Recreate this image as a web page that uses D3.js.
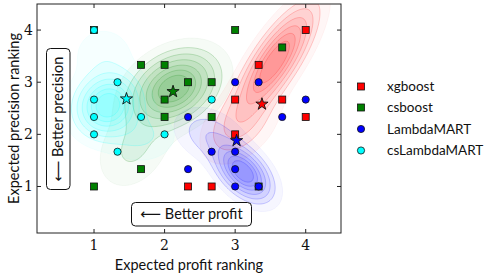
<!DOCTYPE html>
<html><head><meta charset="utf-8">
<script src="https://cdn.jsdelivr.net/npm/d3@7"></script>
<style>body{margin:0;background:#fff}svg{display:block}</style>
</head><body><svg id="c" width="498" height="279"></svg>
<script>
// ---- data ----
const models = ["xgboost", "csboost", "LambdaMART", "csLambdaMART"];
const modelColors = ["#ff0000", "#008000", "#0000ff", "#00ffff"];
const modelShapes = ["square", "square", "circle", "circle"];

const xgboostProfit      = [4, 3.333, 3, 3.667, 4, 3, 2.333, 2.667];
const xgboostPrecision   = [4, 3.333, 2.667, 2.667, 2.333, 2, 1, 1];
const csboostProfit      = [1, 3, 3.667, 1.667, 2, 2.333, 2.667, 2, 2, 2.667, 1.667, 1, 3.333];
const csboostPrecision   = [4, 4, 3.667, 3.333, 3.333, 3, 3, 2.667, 2.333, 2.333, 1.333, 1, 1];
const lambdaProfit       = [3, 3.333, 4, 2.333, 3.667, 2.667, 3, 3, 2.333, 3, 3.333];
const lambdaPrecision    = [3, 3, 2.667, 2.333, 2.333, 1.667, 1.667, 1.333, 1.333, 1, 1];
const csLambdaProfit     = [1, 1.333, 1, 1, 1, 1.333, 1.667, 2, 2.667];
const csLambdaPrecision  = [4, 3, 2.667, 2.333, 2, 1.667, 2.333, 2, 2.667];

// mean rankings (stars)
const meanProfit    = [3.38, 2.12, 3.02, 1.46];
const meanPrecision = [2.58, 2.82, 1.88, 2.68];

// density shape components: [meanX, meanY, sdX, sdY, corr, weight]
const xgboostDensity  = [[3.55, 3.42, 0.31, 0.58, 0.78, 1], [3.05, 2.2, 0.3, 0.4, 0.4, 0.22]];
const csboostDensity  = [[2.12, 2.9, 0.33, 0.38, 0.3, 1], [1.55, 1.75, 0.3, 0.45, 0.3, 0.14]];
const lambdaDensity   = [[3.1, 1.3, 0.22, 0.3, -0.5, 1], [2.62, 2.0, 0.28, 0.3, -0.3, 0.2]];
const csLambdaDensity = [[1.18, 2.58, 0.25, 0.33, 0.1, 1], [1.12, 3.55, 0.28, 0.35, 0, 0.09], [1.65, 2.0, 0.3, 0.3, 0, 0.14]];

const densityLevels = [0.04, 0.12, 0.22, 0.35, 0.5, 0.65, 0.8];

const xTicks = [1, 2, 3, 4];
const yTicks = [1, 2, 3, 4];
const xLabel = "Expected profit ranking";
const yLabel = "Expected precision ranking";
const profitNote = "Better profit";
const precisionNote = "Better precision";

// ---- build ----
const series = [
  {x: xgboostProfit, y: xgboostPrecision, d: xgboostDensity},
  {x: csboostProfit, y: csboostPrecision, d: csboostDensity},
  {x: lambdaProfit, y: lambdaPrecision, d: lambdaDensity},
  {x: csLambdaProfit, y: csLambdaPrecision, d: csLambdaDensity}
];

const L = 37, R = 341, T = 4, B = 233;
const x = d3.scaleLinear().domain([0.192, 4.5]).range([L, R]);
const y = d3.scaleLinear().domain([0.108, 4.5]).range([B, T]);

const svg = d3.select("#c");
const sans = "Lato, 'DejaVu Sans', sans-serif";
const serif = "'DejaVu Serif', 'Liberation Serif', serif";

svg.append("defs").append("clipPath").attr("id", "clip")
  .append("rect").attr("x", L).attr("y", T).attr("width", R - L).attr("height", B - T);

// densities
const step = 2;
const nx = Math.ceil((R - L) / step) + 1, ny = Math.ceil((B - T) / step) + 1;
const gDens = svg.append("g").attr("clip-path", "url(#clip)");
[0, 1, 2, 3].forEach(k => {
  const comps = series[k].d;
  const vals = new Float64Array(nx * ny);
  let mx = 0;
  for (let j = 0; j < ny; j++) {
    for (let i = 0; i < nx; i++) {
      const dx0 = x.invert(L + i * step), dy0 = y.invert(T + j * step);
      let v = 0;
      comps.forEach(([mxx, myy, sx, sy, r, w]) => {
        const a = (dx0 - mxx) / sx, b = (dy0 - myy) / sy;
        v += w * Math.exp(-0.5 * (a * a - 2 * r * a * b + b * b) / (1 - r * r));
      });
      vals[j * nx + i] = v;
      if (v > mx) mx = v;
    }
  }
  const cs = d3.contours().size([nx, ny]).thresholds(densityLevels.map(l => l * mx))(vals);
  const path = d3.geoPath(d3.geoIdentity().scale(step).translate([L, T]));
  gDens.selectAll(null).data(cs).join("path")
    .attr("d", path)
    .attr("fill", modelColors[k])
    .attr("fill-opacity", (d, i) => i === 0 ? 0.035 : 0.075)
    .attr("stroke", modelColors[k])
    .attr("stroke-opacity", (d, i) => i === 0 ? 0.05 : 0.24)
    .attr("stroke-width", 0.8);
});

// frame and ticks
const frame = svg.append("g").attr("stroke", "#222").attr("fill", "none");
frame.append("rect").attr("x", L).attr("y", T).attr("width", R - L).attr("height", B - T).attr("stroke-width", 1);
xTicks.forEach(t => {
  frame.append("line").attr("x1", x(t)).attr("x2", x(t)).attr("y1", B).attr("y2", B - 4);
  frame.append("line").attr("x1", x(t)).attr("x2", x(t)).attr("y1", T).attr("y2", T + 4);
});
yTicks.forEach(t => {
  frame.append("line").attr("x1", L).attr("x2", L + 4).attr("y1", y(t)).attr("y2", y(t));
  frame.append("line").attr("x1", R).attr("x2", R - 4).attr("y1", y(t)).attr("y2", y(t));
});
svg.selectAll(".xt").data(xTicks).join("text").attr("class", "xt")
  .attr("x", d => x(d)).attr("y", 250).attr("text-anchor", "middle")
  .attr("font-family", serif).attr("font-size", 14).attr("fill", "#111").text(d => d);
svg.selectAll(".yt").data(yTicks).join("text").attr("class", "yt")
  .attr("x", 33).attr("y", d => y(d) + 5).attr("text-anchor", "end")
  .attr("font-family", serif).attr("font-size", 14).attr("fill", "#111").text(d => d);

svg.append("text").attr("x", (L + R) / 2).attr("y", 270).attr("text-anchor", "middle")
  .attr("font-family", sans).attr("font-size", 14.5).attr("fill", "#111").text(xLabel);
svg.append("text").attr("transform", `translate(19,${(T + B) / 2}) rotate(-90)`).attr("text-anchor", "middle")
  .attr("font-family", sans).attr("font-size", 14.5).attr("fill", "#111").text(yLabel);

// annotation boxes
svg.append("rect").attr("x", 131.5).attr("y", 202.5).attr("width", 120).attr("height", 23.5).attr("rx", 4)
  .attr("fill", "#fff").attr("stroke", "#111").attr("stroke-width", 1);
const pt = svg.append("text").attr("x", 191.5).attr("y", 219).attr("text-anchor", "middle")
  .attr("font-family", sans).attr("font-size", 14.5).attr("fill", "#111");
pt.append("tspan").attr("font-family", "'DejaVu Sans'").text("\u27F5");
pt.append("tspan").text(" " + profitNote);

svg.append("rect").attr("x", 46.5).attr("y", 48.5).attr("width", 23.5).attr("height", 141).attr("rx", 4)
  .attr("fill", "#fff").attr("stroke", "#111").attr("stroke-width", 1);
const vt = svg.append("text").attr("transform", "translate(63,119) rotate(-90)").attr("text-anchor", "middle")
  .attr("font-family", sans).attr("font-size", 14.5).attr("fill", "#111");
vt.append("tspan").attr("font-family", "'DejaVu Sans'").text("\u27F5");
vt.append("tspan").text(" " + precisionNote);

// points
const gPts = svg.append("g").attr("clip-path", "url(#clip)");
function drawMarker(g, shape, cx, cy, color) {
  if (shape === "square") {
    g.append("rect").attr("x", cx - 3.5).attr("y", cy - 3.5).attr("width", 7).attr("height", 7)
      .attr("fill", color).attr("stroke", "#111").attr("stroke-width", 0.8);
  } else {
    g.append("circle").attr("cx", cx).attr("cy", cy).attr("r", 3.6)
      .attr("fill", color).attr("stroke", "#111").attr("stroke-width", 0.8);
  }
}
series.forEach((s, k) => {
  s.x.forEach((v, i) => drawMarker(gPts, modelShapes[k], x(v), y(s.y[i]), modelColors[k]));
});
const star = d3.symbol().type(d3.symbolStar).size(46);
meanProfit.forEach((v, k) => {
  svg.append("path").attr("d", star).attr("transform", `translate(${x(v)},${y(meanPrecision[k])})`)
    .attr("fill", modelColors[k]).attr("stroke", "#111").attr("stroke-width", 0.9);
});

// legend
const legY = [86.5, 107.5, 129, 150.5];
models.forEach((m, k) => {
  drawMarker(svg, modelShapes[k], 361, legY[k], modelColors[k]);
  svg.append("text").attr("x", 387).attr("y", legY[k] + 4.5)
    .attr("font-family", sans).attr("font-size", 13.5).attr("fill", "#111").text(m);
});
</script></body></html>
